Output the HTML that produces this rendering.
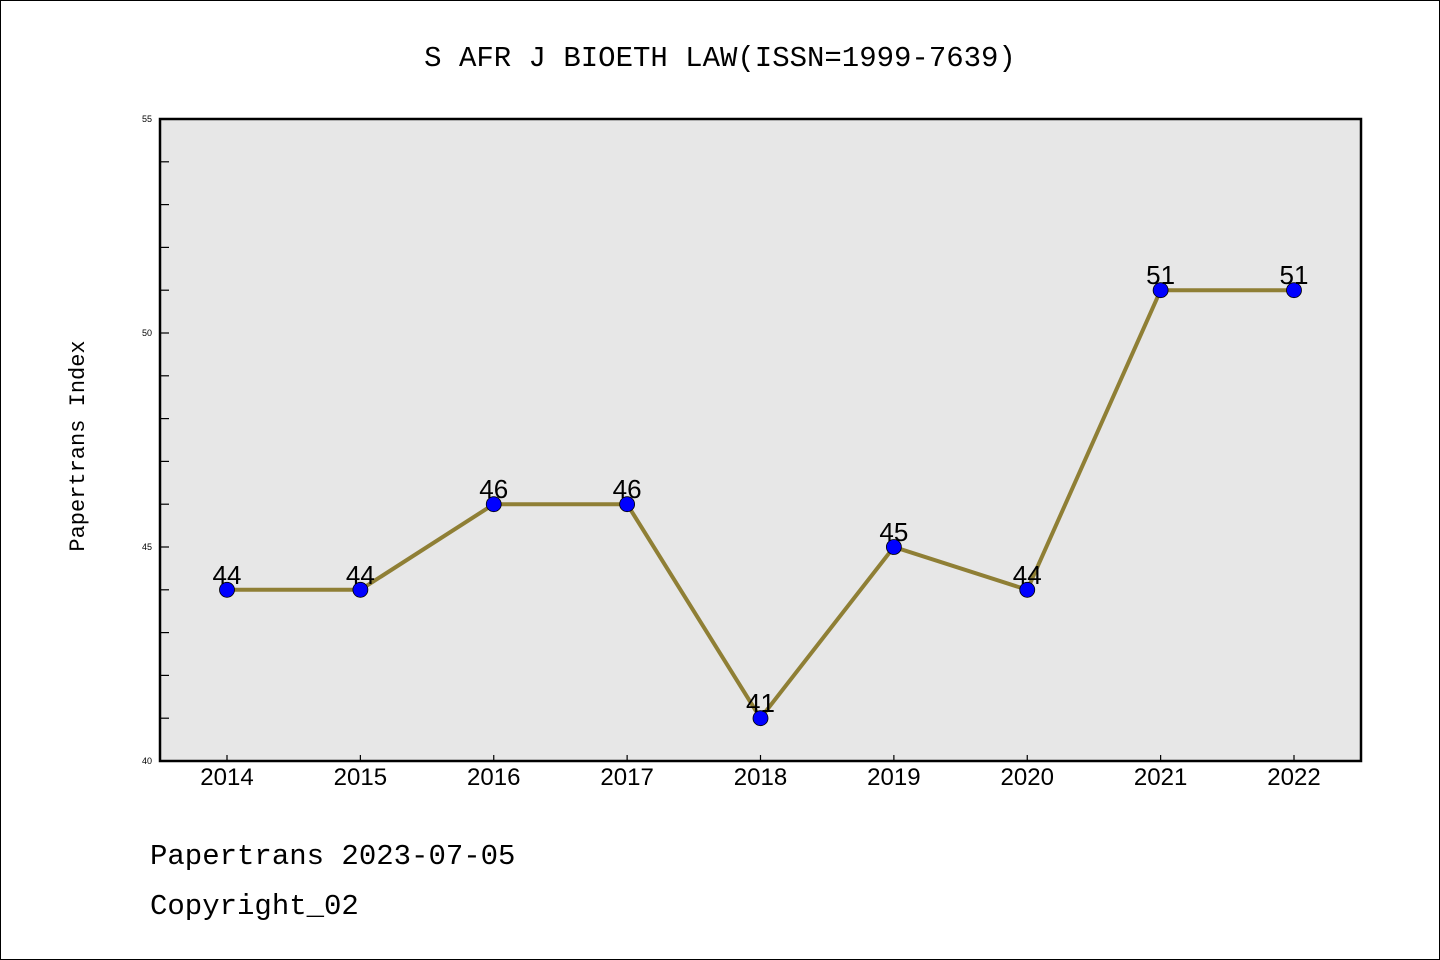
<!DOCTYPE html>
<html><head><meta charset="utf-8"><style>
body{margin:0;background:#fff}
svg{display:block}
text{font-family:"Liberation Sans","WenQuanYi Zen Hei",sans-serif}
.mono{font-family:"Liberation Mono","WenQuanYi Zen Hei",monospace}
</style></head><body>
<svg width="1440" height="960" viewBox="0 0 1440 960">
<rect x="0.5" y="0.5" width="1439" height="959" fill="#fff" stroke="#000"/>
<text class="mono" x="720" y="66" font-size="29" text-anchor="middle">S AFR J BIOETH LAW(ISSN=1999-7639)</text>
<rect x="160" y="119" width="1201" height="642" fill="#e7e7e7"/>
<g id="axes"></g>
<g id="marks"></g>
<rect x="160" y="119" width="1201" height="642" fill="none" stroke="#000" stroke-width="2.5"/>
<text class="mono" transform="translate(84,446) rotate(-90)" font-size="22" text-anchor="middle">Papertrans Index</text>
<text class="mono" x="150" y="864" font-size="29">Papertrans 2023-07-05</text>
<text class="mono" x="150" y="914" font-size="29">Copyright_02</text>
</svg>
<script>
const years=["2014","2015","2016","2017","2018","2019","2020","2021","2022"];
const values=[44,44,46,46,41,45,44,51,51];
const yTicks=[40,45,50,55];
const NS="http://www.w3.org/2000/svg";
const x0=227,x1=1294,yTop=119,yBot=761,ymin=40,ymax=55;
const xs=i=>x0+(x1-x0)*i/(years.length-1);
const ys=v=>yBot-(v-ymin)/(ymax-ymin)*(yBot-yTop);
function mk(t,a,p){const e=document.createElementNS(NS,t);for(const k in a)e.setAttribute(k,a[k]);p.appendChild(e);return e;}
const ax=document.getElementById('axes'),mg=document.getElementById('marks');
for(let v=ymin;v<=ymax;v++){
 const l=mk('line',{x1:160,x2:169,y1:ys(v),y2:ys(v),stroke:'#000','stroke-width':1.2},ax);
 
 
}
yTicks.forEach(v=>{
 const t=mk('text',{x:152,y:ys(v)+3,'font-size':9,'text-anchor':'end'},ax);t.textContent=v;
 
 
});
years.forEach((y,i)=>{
 const l=mk('line',{x1:xs(i),x2:xs(i),y1:755,y2:761,stroke:'#000','stroke-width':1.2},ax);
 
 
 const t=mk('text',{x:xs(i),y:785,'font-size':24,'text-anchor':'middle'},ax);t.textContent=y;
 
 
});
const pl=mk('polyline',{points:values.map((v,i)=>xs(i)+','+ys(v)).join(' '),fill:'none',stroke:'#8f7f35','stroke-width':4},mg);


values.forEach((v,i)=>{
 const c=mk('circle',{cx:xs(i),cy:ys(v),r:7.5,fill:'#0000ff',stroke:'#000','stroke-width':0.8},mg);
 
 
 const t=mk('text',{x:xs(i),y:ys(v)-6,'font-size':26,'text-anchor':'middle'},mg);t.textContent=v;
 
 
});
</script>
</body></html>
